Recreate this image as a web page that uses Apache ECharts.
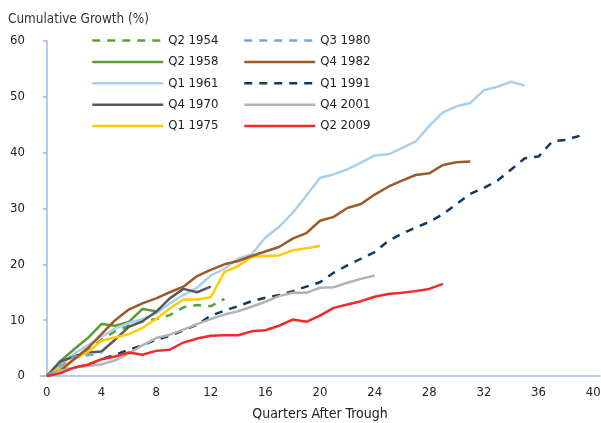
<!DOCTYPE html>
<html>
<head>
<meta charset="utf-8">
<script src="https://cdn.jsdelivr.net/npm/echarts@6/dist/echarts.min.js"></script>
<style>
  html, body { margin: 0; padding: 0; background: #fff; }
  #chart { width: 601px; height: 423px; }
</style>
</head>
<body>
<div id="chart"></div>
<script>
// values per quarter after trough, index = quarter
var q2_1954 = [0, 2, 3.5, 4.5, 6.5, 8, 9, 9.8, 10.2, 10.9, 12.3, 12.7, 12.5, 13.8]
var q2_1958 = [0, 2.7, 4.8, 6.8, 9.3, 9, 9.7, 12, 11.6]
var q1_1961 = [0, 2, 4, 5.5, 7, 8.5, 9.5, 10.2, 11.2, 13, 14.5, 15.8, 18, 19.2, 21, 21.8,
  24.8, 26.7, 29.2, 32.3, 35.5, 36.1, 37, 38.2, 39.5, 39.7, 40.8, 42, 44.8, 47.2, 48.3,
  48.9, 51.2, 51.8, 52.7, 52]
var q4_1970 = [0, 2.6, 3.5, 4.2, 4.4, 6.5, 8.8, 9.8, 11.5, 13.9, 15.6, 15, 16]
var q1_1975 = [0, 1.5, 3, 4.3, 6.3, 6.9, 7.5, 8.6, 10.2, 12.1, 13.7, 13.7, 14.1, 18.6,
  19.7, 21.3, 21.5, 21.6, 22.5, 22.9, 23.3]
var q3_1980 = [0, 1.8, 3.5, 3.7, 4.1]
var q4_1982 = [0, 1, 3, 5, 7.5, 10, 11.9, 13, 13.9, 15, 16, 17.9, 19, 20, 20.6, 21.5,
  22.3, 23.1, 24.6, 25.6, 27.8, 28.5, 30.1, 30.8, 32.5, 33.9, 35, 36, 36.3, 37.8, 38.3, 38.4]
var q1_1991 = [0, 1, 1.5, 2, 3, 3.8, 4.7, 5.5, 6.5, 7.2, 8.2, 9.2, 10.8, 11.7, 12.5, 13.4,
  14, 14.5, 15.2, 16, 16.8, 18.5, 19.8, 21, 22.2, 24.2, 25.5, 26.6, 27.6, 29, 30.8, 32.6,
  33.7, 35, 37, 39, 39.3, 42, 42.3, 43]
var q4_2001 = [0, 1, 1.5, 1.8, 2.1, 2.8, 4, 5.5, 6.8, 7.4, 8.3, 9.3, 10.2, 11, 11.6, 12.4,
  13.3, 14.3, 14.9, 14.9, 15.8, 15.9, 16.7, 17.4, 18]
var q2_2009 = [0, 0.5, 1.5, 2, 3, 3.5, 4.2, 3.8, 4.5, 4.7, 6, 6.7, 7.2, 7.3, 7.3, 8, 8.2,
  9, 10.1, 9.7, 10.8, 12.2, 12.8, 13.4, 14.2, 14.7, 14.9, 15.2, 15.6, 16.5]

var xTicks = [0, 4, 8, 12, 16, 20, 24, 28, 32, 36, 40]

var font = "'Liberation Sans Narrow', 'DejaVu Sans Condensed', sans-serif"
var axisColor = '#9DBAE0'

function line(name, values, color, dashed) {
  return {
    name: name,
    type: 'line',
    symbol: 'none',
    data: values.map(function (v, i) { return [i, v] }),
    lineStyle: { color: color, width: 2.5, type: dashed ? [8, 7] : 'solid' },
    itemStyle: { color: color }
  }
}

var legendText = { color: '#222', fontSize: 13, fontFamily: font }

// 图例：两列，每列五项
function legendCol(left, names) {
  return {
    orient: 'vertical',
    left: left,
    top: 29,
    itemWidth: 71,
    itemHeight: 14,
    itemGap: 8.4,
    itemStyle: { opacity: 0 },
    lineStyle: { width: 2.5 },
    textStyle: legendText,
    data: names
  }
}

var chart = echarts.init(document.getElementById('chart'))
chart.setOption({
  animation: false,
  title: {
    text: 'Cumulative Growth (%)',
    left: 3,
    top: 8,
    textStyle: { color: '#333', fontSize: 13.4, fontWeight: 'normal', fontFamily: font }
  },
  legend: [
    legendCol(86, ['Q2 1954', 'Q2 1958', 'Q1 1961', 'Q4 1970', 'Q1 1975']),
    legendCol(238, ['Q3 1980', 'Q4 1982', 'Q1 1991', 'Q4 2001', 'Q2 2009'])
  ],
  grid: { left: 40, right: 1, top: 41, bottom: 47, outerBoundsMode: 'none' },
  xAxis: {
    type: 'value',
    min: -0.5,
    max: 40.5,
    name: 'Quarters After Trough',
    nameLocation: 'middle',
    nameGap: 31,
    nameTextStyle: { color: '#222', fontSize: 14, fontFamily: font },
    axisLine: { lineStyle: { color: axisColor, width: 1.5 } },
    axisTick: { show: false },
    splitLine: { show: false },
    axisLabel: {
      customValues: xTicks,
      margin: 10,
      color: '#222',
      fontSize: 13,
      fontFamily: font
    }
  },
  yAxis: {
    type: 'value',
    min: 0,
    max: 60,
    interval: 10,
    axisLine: { show: true, lineStyle: { color: axisColor, width: 1.5 } },
    axisTick: { show: true, length: 4, lineStyle: { color: axisColor, width: 1.5 } },
    splitLine: { show: false },
    axisLabel: { margin: 15, color: '#222', fontSize: 13, fontFamily: font }
  },
  series: [
    line('Q2 1954', q2_1954, '#5E9E3C', true),
    line('Q2 1958', q2_1958, '#5C9A3A', false),
    line('Q1 1961', q1_1961, '#A9CFEF', false),
    line('Q4 1970', q4_1970, '#595959', false),
    line('Q1 1975', q1_1975, '#FFCC00', false),
    line('Q3 1980', q3_1980, '#7BA4D6', true),
    line('Q4 1982', q4_1982, '#9C5A2A', false),
    line('Q1 1991', q1_1991, '#0E3A62', true),
    line('Q4 2001', q4_2001, '#B3B3B3', false),
    line('Q2 2009', q2_2009, '#EE2A2A', false)
  ]
})
</script>
</body>
</html>
